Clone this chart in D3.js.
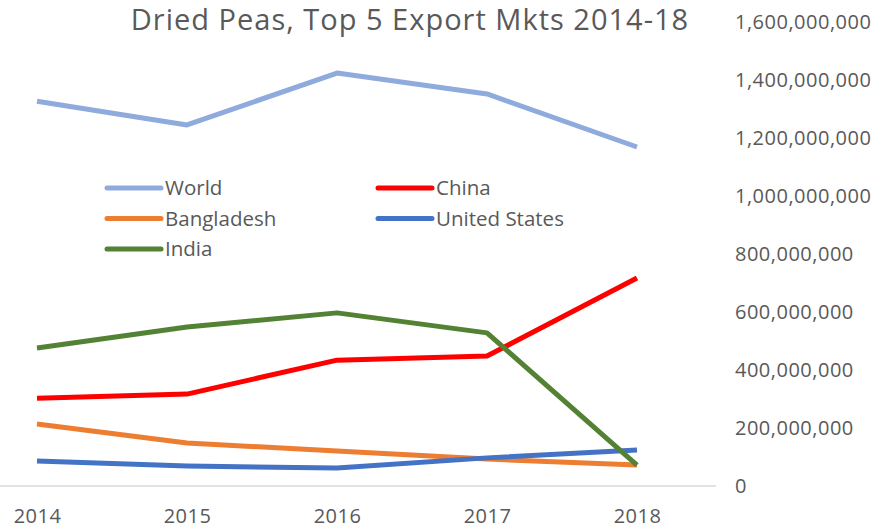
<!DOCTYPE html>
<html>
<head>
<meta charset="utf-8">
<script src="https://cdn.jsdelivr.net/npm/d3@7"></script>
<style>
  body { margin: 0; background: #fff; }
  text { font-family: "Open Sans", "DejaVu Sans", sans-serif; fill: #595959; }
</style>
</head>
<body>
<svg id="chart" width="880" height="532"></svg>
<script>
var years = ["2014", "2015", "2016", "2017", "2018"];
var world = [1327e6, 1245e6, 1424e6, 1352e6, 1169e6];
var china = [303e6, 317e6, 434e6, 448e6, 717e6];
var bangladesh = [214e6, 148e6, 121e6, 93e6, 72e6];
var unitedStates = [86e6, 69e6, 62e6, 97e6, 124e6];
var india = [476e6, 548e6, 597e6, 528e6, 72e6];
var yTicks = [0, 200e6, 400e6, 600e6, 800e6, 1000e6, 1200e6, 1400e6, 1600e6];

var series = [
  {name: "World", values: world, color: "#8faadc"},
  {name: "China", values: china, color: "#ff0000"},
  {name: "Bangladesh", values: bangladesh, color: "#ed7d31"},
  {name: "United States", values: unitedStates, color: "#4472c4"},
  {name: "India", values: india, color: "#548235"}
];

var svg = d3.select("#chart");

var x = d3.scalePoint()
  .domain(years)
  .range([37, 637]);

var y = d3.scaleLinear()
  .domain([0, 1600e6])
  .range([486, 22]);

// baseline
svg.append("line")
  .attr("x1", 0).attr("x2", 716)
  .attr("y1", y(0)).attr("y2", y(0))
  .style("stroke", "#d9d9d9")
  .style("stroke-width", 1.5);

// y axis on the right, text only
var yAxis = svg.append("g")
  .attr("transform", "translate(735,0)")
  .call(d3.axisRight(y).tickValues(yTicks).tickSize(0).tickPadding(0).tickFormat(d3.format(",")));
yAxis.select(".domain").remove();
yAxis.selectAll("text")
  .style("font-size", "20px")
  .style("letter-spacing", "0.5px")
  .style("fill", "#595959")
  .style("font-family", "'Open Sans', sans-serif");

// x axis labels
var xAxis = svg.append("g")
  .attr("transform", "translate(0,509)")
  .call(d3.axisBottom(x).tickSize(0).tickPadding(0));
xAxis.select(".domain").remove();
xAxis.selectAll("text")
  .style("font-size", "20px")
  .style("letter-spacing", "0.5px")
  .style("fill", "#595959")
  .style("font-family", "'Open Sans', sans-serif");

var line = d3.line()
  .x(function(d, i) { return x(years[i]); })
  .y(function(d) { return y(d); });

svg.selectAll(".series")
  .data(series)
  .enter().append("path")
  .attr("class", "series")
  .attr("d", function(d) { return line(d.values); })
  .style("fill", "none")
  .style("stroke", function(d) { return d.color; })
  .style("stroke-width", 5)
  .style("stroke-linejoin", "round");

// title
svg.append("text")
  .attr("x", 410)
  .attr("y", 30)
  .attr("text-anchor", "middle")
  .style("font-size", "29px")
  .style("letter-spacing", "1px")
  .text("Dried Peas, Top 5 Export Mkts 2014-18");

// legend
var legend = svg.selectAll(".legend")
  .data(series)
  .enter().append("g")
  .attr("class", "legend")
  .attr("transform", function(d, i) {
    return "translate(" + (i % 2 ? 378 : 107) + "," + (188 + Math.floor(i / 2) * 30.5) + ")";
  });

legend.append("line")
  .attr("x1", 0).attr("x2", 54)
  .style("stroke", function(d) { return d.color; })
  .style("stroke-width", 5)
  .style("stroke-linecap", "round");

legend.append("text")
  .attr("x", 58)
  .attr("dy", "0.35em")
  .style("font-size", "20.5px")
  .text(function(d) { return d.name; });
</script>
</body>
</html>
